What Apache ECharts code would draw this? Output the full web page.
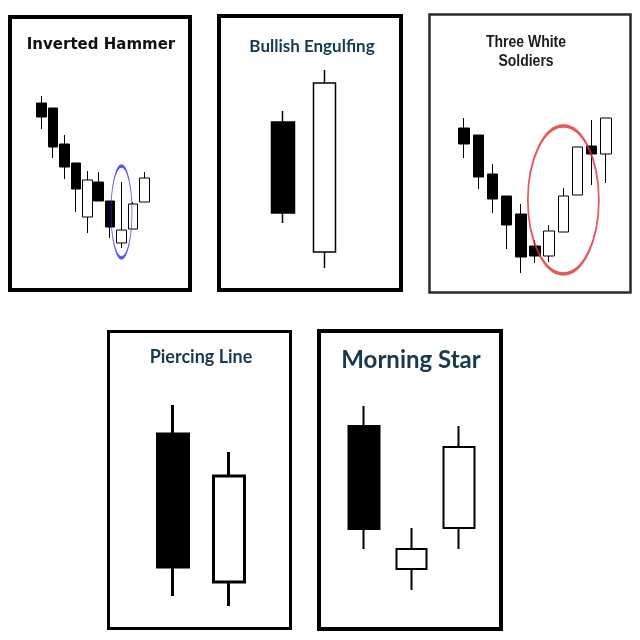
<!DOCTYPE html>
<html>
<head>
<meta charset="utf-8">
<script src="https://cdn.jsdelivr.net/npm/echarts@6/dist/echarts.min.js"></script>
<style>
  html, body { margin: 0; padding: 0; background: #fff; }
  #container { width: 640px; height: 640px; }
</style>
</head>
<body>
<div id="container"></div>
<script>
// candle values: [open, close, low, high]
const hammerDays = ['1', '2', '3', '4', '5', '6', '7', '8', '9', '10']
const hammerCandles = [
  [197, 183, 171, 204], [192, 153, 142, 192], [156, 133, 121, 165], [137, 111, 88, 137],
  [83, 120, 67, 129], [118, 99, 99, 128], [99, 73, 62, 99], [57, 70, 52, 118],
  [71, 96, 71, 98], [98, 122, 98, 128]
]
const hammerMark = [[7, 88]]

const engulfDays = ['1', '2']
const engulfCandles = [[178, 87, 77, 189], [48, 217, 32, 230]]

const soldierDays = ['1', '2', '3', '4', '5', '6', '7', '8', '9', '10', '11']
const soldierCandles = [
  [172, 156, 142, 182], [165, 123, 111, 165], [126, 101, 87, 136], [104, 75, 51, 104],
  [86, 43, 27, 96], [54, 44, 37, 60], [44, 69, 38, 75], [68, 104, 68, 112],
  [105, 153, 105, 153], [154, 146, 115, 180], [146, 182, 117, 182]
]
const soldierMark = [[7, 100]]

const piercingDays = ['1', '2']
const piercingCandles = [[196, 63, 34, 225], [48, 154, 24, 178]]

const starDays = ['1', '2', '3']
const starCandles = [[204, 101, 81, 224], [61, 81, 40, 102], [102, 183, 81, 204]]

const titles = ['Inverted Hammer', 'Bullish Engulfing', 'Three White\nSoldiers', 'Piercing Line', 'Morning Star']

const navy = '#17394f'

const panels = [
  { days: hammerDays, data: hammerCandles, grid: { left: 36, top: 0, width: 114, height: 300 }, barWidth: 10, border: 1 },
  { days: engulfDays, data: engulfCandles, grid: { left: 262, top: 0, width: 83, height: 300 }, barWidth: 23, border: 1.5 },
  { days: soldierDays, data: soldierCandles, grid: { left: 457, top: 0, width: 156, height: 300 }, barWidth: 11, border: 1 },
  { days: piercingDays, data: piercingCandles, grid: { left: 145, top: 330, width: 112, height: 300 }, barWidth: 32, border: 3 },
  { days: starDays, data: starCandles, grid: { left: 340, top: 330, width: 143, height: 300 }, barWidth: 31, border: 2 }
]

const frame = (x, y, w, h, lw, color) => ({
  type: 'rect',
  shape: { x: x, y: y, width: w, height: h },
  style: { fill: 'none', stroke: color, lineWidth: lw },
  silent: true
})

const label = (text, x, y, font, color, sy) => ({
  type: 'text',
  x: x,
  y: y,
  scaleY: sy || 1,
  style: { text: text, font: font, fill: color, align: 'center', verticalAlign: 'middle', lineHeight: 17 },
  silent: true
})

const series = panels.map((p, i) => ({
  type: 'candlestick',
  xAxisIndex: i,
  yAxisIndex: i,
  data: p.data,
  barWidth: p.barWidth,
  itemStyle: {
    color: '#ffffff',
    color0: '#000000',
    borderColor: '#000000',
    borderColor0: '#000000',
    borderWidth: p.border
  }
}))

// highlight rings
series.push({
  type: 'scatter',
  xAxisIndex: 0,
  yAxisIndex: 0,
  data: hammerMark,
  symbol: 'circle',
  symbolSize: [21, 92],
  itemStyle: { color: 'transparent', borderColor: '#2a32e6', borderWidth: 1.6 },
  z: 5
})
series.push({
  type: 'scatter',
  xAxisIndex: 2,
  yAxisIndex: 2,
  data: soldierMark,
  symbol: 'circle',
  symbolSize: [71, 148],
  itemStyle: { color: 'transparent', borderColor: '#e0302c', borderWidth: 2.5 },
  z: 5
})

const option = {
  backgroundColor: '#ffffff',
  animation: false,
  grid: panels.map(p => p.grid),
  xAxis: panels.map((p, i) => ({
    type: 'category',
    gridIndex: i,
    data: p.days,
    show: false
  })),
  yAxis: panels.map((p, i) => ({
    type: 'value',
    gridIndex: i,
    min: 0,
    max: 300,
    show: false
  })),
  graphic: [
    frame(10, 17, 180, 273, 4, '#000'),
    frame(219, 16, 182, 274, 4, '#000'),
    frame(429.5, 14.5, 201, 278, 2.5, '#2a2a2a'),
    frame(108.5, 331.5, 182, 297, 3, '#000'),
    frame(319, 331, 182, 298, 4, '#000'),
    label(titles[0], 101, 45, 'bold 15px "DejaVu Sans"', '#111'),
    label(titles[1], 312, 47, 'bold 17px Lato', navy),
    label(titles[2], 526, 52, 'bold 14px "Liberation Sans"', '#1c1c1c', 1.15),
    label(titles[3], 201, 357, 'bold 18px Lato', navy),
    label(titles[4], 411, 360, 'bold 24px Lato', navy)
  ],
  series: series
}

const myChart = echarts.init(document.getElementById('container'))
myChart.setOption(option)
</script>
</body>
</html>
